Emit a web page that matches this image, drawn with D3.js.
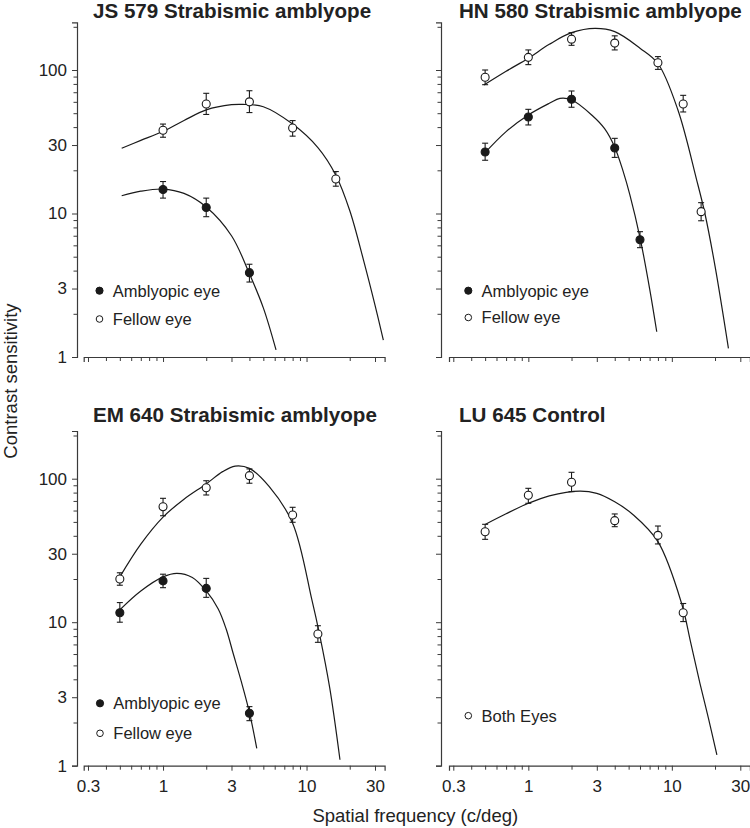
<!DOCTYPE html>
<html><head><meta charset="utf-8">
<script src="https://cdn.jsdelivr.net/npm/d3@7"></script>
<style>
body{margin:0;background:#fff}
svg{display:block}
text{font-family:"Liberation Sans",Arial,Helvetica,sans-serif;fill:#222}
</style>
</head><body>
<svg id="chart" width="750" height="828"></svg>
<script>
// ---------- DATA ----------
const titles = ["JS 579 Strabismic amblyope","HN 580 Strabismic amblyope","EM 640 Strabismic amblyope","LU 645 Control"];
const xTickValues = [0.3,0.4,0.5,0.6,0.7,0.8,0.9,1,2,3,4,5,6,7,8,9,10,20,30];
const xTickLabels = [0.3,1,3,10,30];
const yTickValues = [1,2,3,4,5,6,7,8,9,10,20,30,40,50,60,70,80,90,100,200];
const yTickLabels = [1,3,10,30,100];
const legendAmb = "Amblyopic eye", legendFellow = "Fellow eye", legendBoth = "Both Eyes";
const xTitle = "Spatial frequency (c/deg)", yTitle = "Contrast sensitivity";

// JS 579
const jsFellowF  = [1,2,4,8,16];
const jsFellowCS = [38,58,60,39.4,17.4];
const jsFellowLo = [34,49,50.5,34.6,15.5];
const jsFellowHi = [42,68.8,71.7,44.4,19.6];
const jsAmbF  = [1,2,4];
const jsAmbCS = [14.7,11.0,3.87];
const jsAmbLo = [12.8,9.5,3.33];
const jsAmbHi = [16.7,12.8,4.43];
const jsFellowCurveF  = [0.515,0.7,1,1.4,2,3,3.6,5,8,12,16,20,25,30,34.3];
const jsFellowCurveCS = [28.5,32.3,37.4,44.5,52.7,57.3,57.6,55.5,42,28.8,18.5,10.5,4.7,2.3,1.31];
const jsAmbCurveF  = [0.515,0.7,1,1.4,2,3,4,5,6.13];
const jsAmbCurveCS = [13.3,14.3,14.8,13.8,11.1,7.0,3.8,2.2,1.12];

// HN 580
const hnFellowF  = [0.5,1,2,4,8,12,16];
const hnFellowCS = [89,122.5,164,154,112.4,58,10.3];
const hnFellowLo = [79,109,148.6,138,101,51,8.9];
const hnFellowHi = [100,138,182,173,124,66.6,11.9];
const hnAmbF  = [0.5,1,2,4,6];
const hnAmbCS = [26.8,47,62.5,28.6,6.57];
const hnAmbLo = [23.5,41.4,55,24.6,5.78];
const hnAmbHi = [30.9,53.2,71.4,33.4,7.47];
const hnFellowCurveF  = [0.49,0.7,1,1.4,2,2.92,4,6,8,11,14.9,17,20,24.8];
const hnFellowCurveCS = [78.6,98,120.8,151,182,195,185,142,111,53,17.1,10,4.3,1.15];
const hnAmbCurveF  = [0.49,0.7,1,1.4,1.66,2,2.8,3.4,4,4.59,5.1,6,7,7.85];
const hnAmbCurveCS = [26,37.2,48.6,58.6,63.5,62,48,39,29,19.5,13.5,6.8,3.0,1.5];

// EM 640
const emFellowF  = [0.5,1,2,4,8,12];
const emFellowCS = [20,63.8,86.5,105,55.8,8.27];
const emFellowLo = [18.1,55.2,77,93,49.7,7.24];
const emFellowHi = [22.1,73,96.8,117,63.2,9.45];
const emAmbF  = [0.5,1,2,4];
const emAmbCS = [11.65,19.4,17.2,2.32];
const emAmbLo = [10,17.4,14.9,2.06];
const emAmbHi = [13.7,21.6,20.2,2.58];
const emFellowCurveF  = [0.5,0.7,1,1.4,2,2.6,3.18,4,5.5,8,10.9,12.3,14.5,17.1];
const emFellowCurveCS = [20.7,35,54,72,92,112,122.5,118,88,49,14.3,8.3,3.5,1.1];
const emAmbCurveF  = [0.5,0.7,1,1.25,1.6,2,2.42,2.75,3.09,3.5,4,4.5];
const emAmbCurveCS = [12.2,16.5,20.7,21.9,20.5,16.5,12.4,9.0,6.0,3.9,2.35,1.32];

// LU 645
const luBothF  = [0.5,1,2,4,8,12];
const luBothCS = [42.7,76.6,94.4,51,40.3,11.65];
const luBothLo = [37.8,67.4,81.2,46.3,35.1,10.1];
const luBothHi = [48.1,85.7,110.8,56.8,46.8,13.5];
const luCurveF  = [0.5,0.7,1,1.4,2.29,3,4,5.4,8,11.7,13.5,15.7,18,20.6];
const luCurveCS = [48,57,67.4,76,82,79,69,55.9,36.4,13.5,7.3,3.75,2.14,1.19];

// ---------- BUILD ----------
const zip = (f, cs, lo, hi) => f.map((d,i)=>({f:d, cs:cs[i], lo:lo?lo[i]:null, hi:hi?hi[i]:null}));
const panels = [
  {title:titles[0],
   series:[{pts:zip(jsAmbF,jsAmbCS,jsAmbLo,jsAmbHi), filled:true},{pts:zip(jsFellowF,jsFellowCS,jsFellowLo,jsFellowHi), filled:false}],
   curves:[zip(jsAmbCurveF,jsAmbCurveCS), zip(jsFellowCurveF,jsFellowCurveCS)],
   legend:[{label:legendAmb, filled:true},{label:legendFellow, filled:false}]},
  {title:titles[1],
   series:[{pts:zip(hnAmbF,hnAmbCS,hnAmbLo,hnAmbHi), filled:true},{pts:zip(hnFellowF,hnFellowCS,hnFellowLo,hnFellowHi), filled:false}],
   curves:[zip(hnAmbCurveF,hnAmbCurveCS), zip(hnFellowCurveF,hnFellowCurveCS)],
   legend:[{label:legendAmb, filled:true},{label:legendFellow, filled:false}]},
  {title:titles[2],
   series:[{pts:zip(emAmbF,emAmbCS,emAmbLo,emAmbHi), filled:true},{pts:zip(emFellowF,emFellowCS,emFellowLo,emFellowHi), filled:false}],
   curves:[zip(emAmbCurveF,emAmbCurveCS), zip(emFellowCurveF,emFellowCurveCS)],
   legend:[{label:legendAmb, filled:true},{label:legendFellow, filled:false}]},
  {title:titles[3],
   series:[{pts:zip(luBothF,luBothCS,luBothLo,luBothHi), filled:false}],
   curves:[zip(luCurveF,luCurveCS)],
   legend:[{label:legendBoth, filled:false}]}
];

// layout (pixels)
const D = 143.5;            // px per decade
const xDomain = [0.28, 35], yDomain = [1, 215];
const layout = [
  {x0:83.7, y0:357,   yAxisX:77,  titleX:93,  titleY:17.5,  legX:99.5,  legY:[290.7,319]},
  {x0:449,  y0:357,   yAxisX:441, titleX:459, titleY:17.5,  legX:468.3, legY:[290.7,317.5]},
  {x0:83.7, y0:765.7, yAxisX:77,  titleX:93,  titleY:421.7, legX:100,   legY:[703.3,733.3]},
  {x0:449,  y0:765.7, yAxisX:441, titleX:459, titleY:421.7, legX:468.3, legY:[715.7]}
];

const svg = d3.select("#chart");
const ink = "#1a1a1a", axisCol = "#3a3a3a";

panels.forEach((p, i) => {
  const L = layout[i];
  const x = d3.scaleLog().domain(xDomain).range([L.x0, L.x0 + D*Math.log10(xDomain[1]/xDomain[0])]);
  const y = d3.scaleLog().domain(yDomain).range([L.y0, L.y0 - D*Math.log10(yDomain[1]/yDomain[0])]);
  const g = svg.append("g");
  const showX = i >= 2, showY = (i % 2) === 0;

  // x axis
  const gx = g.append("g").attr("transform", `translate(0,${L.y0})`)
    .call(d3.axisBottom(x).tickValues(xTickValues).tickSizeOuter(0).tickSize(5).tickPadding(9)
      .tickFormat(d => showX && xTickLabels.includes(d) ? d3.format("~g")(d) : ""));
  gx.selectAll(".tick line").attr("y2", d => xTickLabels.includes(d) ? 5 : 4);
  // y axis
  const gy = g.append("g").attr("transform", `translate(${L.yAxisX},0)`)
    .call(d3.axisLeft(y).tickValues(yTickValues).tickSizeOuter(0).tickSize(5).tickPadding(5)
      .tickFormat(d => showY && yTickLabels.includes(d) ? d : ""));
  gy.selectAll(".tick line").attr("x2", d => yTickLabels.includes(d) ? -5 : -3.5);
  [gx, gy].forEach(a => {
    a.select(".domain").attr("stroke", axisCol).attr("stroke-width", 1.2);
    a.selectAll(".tick line").attr("stroke", axisCol).attr("stroke-width", 1);
    a.selectAll(".tick text").attr("font-size", 17).attr("fill", "#222")
      .style("font-family", '"Liberation Sans",Arial,sans-serif');
  });

  // title
  g.append("text").attr("x", L.titleX).attr("y", L.titleY)
    .attr("font-size", 20.6).attr("font-weight", "bold").text(p.title);

  // curves
  const line = d3.line().x(d => x(d.f)).y(d => y(d.cs)).curve(d3.curveCatmullRom.alpha(0.5));
  p.curves.forEach(c => g.append("path").attr("d", line(c))
    .attr("fill", "none").attr("stroke", ink).attr("stroke-width", 1.2));

  // error bars + points
  p.series.forEach(s => {
    const eb = g.append("g").attr("stroke", ink).attr("stroke-width", 1.1);
    s.pts.forEach(d => {
      const cx = x(d.f);
      eb.append("line").attr("x1", cx).attr("x2", cx).attr("y1", y(d.lo)).attr("y2", y(d.hi));
      eb.append("line").attr("x1", cx-3).attr("x2", cx+3).attr("y1", y(d.lo)).attr("y2", y(d.lo));
      eb.append("line").attr("x1", cx-3).attr("x2", cx+3).attr("y1", y(d.hi)).attr("y2", y(d.hi));
    });
    g.append("g").selectAll("circle").data(s.pts).join("circle")
      .attr("cx", d => x(d.f)).attr("cy", d => y(d.cs)).attr("r", 4)
      .attr("fill", s.filled ? ink : "#fff").attr("stroke", ink).attr("stroke-width", 1.1);
  });

  // legend
  p.legend.forEach((it, k) => {
    const ly = L.legY[k];
    g.append("circle").attr("cx", L.legX).attr("cy", ly).attr("r", it.filled ? 3.6 : 3.3)
      .attr("fill", it.filled ? ink : "#fff").attr("stroke", ink).attr("stroke-width", 1);
    g.append("text").attr("x", L.legX + 13.3).attr("y", ly + 5.8)
      .attr("font-size", 16.5).text(it.label);
  });
});

// axis titles
svg.append("text").attr("x", 415.3).attr("y", 821.7).attr("text-anchor", "middle")
  .attr("font-size", 18.5).text(xTitle);
svg.append("text").attr("transform", "translate(16.7,381) rotate(-90)").attr("text-anchor", "middle")
  .attr("font-size", 18.5).text(yTitle);
</script>
</body></html>
